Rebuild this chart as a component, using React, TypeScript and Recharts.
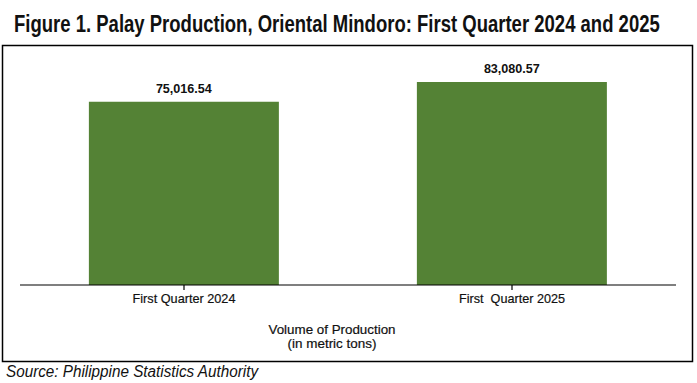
import { BarChart, Bar, XAxis, YAxis, LabelList } from "recharts";

const categories = ["First Quarter 2024", "First  Quarter 2025"];
const production = [75016.54, 83080.57];
const axisTitle = ["Volume of Production", "(in metric tons)"];

const data = categories.map((name, i) => ({ name, value: production[i] }));

const sans = "'Liberation Sans', Arial, sans-serif";

function fmt(v: number) {
  return v.toLocaleString("en-US", { minimumFractionDigits: 2, maximumFractionDigits: 2 });
}

const tickWidths: Record<string, number> = {
  "First Quarter 2024": 103,
  "First  Quarter 2025": 106,
};

function AxisTitle() {
  return (
    <text textAnchor="middle" fontFamily={sans} fontSize={13} fill="#111" stroke="#111" strokeWidth={0.2}>
      <tspan x={332} y={334} textLength={127} lengthAdjust="spacingAndGlyphs">{axisTitle[0]}</tspan>
      <tspan x={332} y={348} textLength={89} lengthAdjust="spacingAndGlyphs">{axisTitle[1]}</tspan>
    </text>
  );
}

function CatTick(props: any) {
  const { x, y, payload } = props;
  return (
    <text
      x={x}
      y={y + 11}
      textAnchor="middle"
      fontFamily={sans}
      fontSize={13}
      fill="#111"
      stroke="#111"
      strokeWidth={0.2}
      textLength={tickWidths[payload.value]}
      lengthAdjust="spacingAndGlyphs"
      style={{ whiteSpace: "pre" }}
    >
      {payload.value}
    </text>
  );
}

function ValueLabel(props: any) {
  const { x, y, width, value } = props;
  return (
    <text
      x={x + width / 2}
      y={y - 9}
      textAnchor="middle"
      fontFamily={sans}
      fontWeight="bold"
      fontSize={13}
      fill="#111"
      textLength={56}
      lengthAdjust="spacingAndGlyphs"
    >
      {fmt(Number(value))}
    </text>
  );
}

export default function App() {
  return (
    <div style={{ position: "fixed", left: 0, top: 0, width: 697, height: 383, background: "#fff" }}>
      <div style={{ position: "absolute", left: 0, top: 0 }}>
        <BarChart
          width={697}
          height={383}
          data={data}
          margin={{ top: 65, right: 21, left: 20, bottom: 0 }}
          barCategoryGap="21%"
        >
          <YAxis hide domain={[0, 90000]} />
          <XAxis
            dataKey="name"
            height={98}
            axisLine={{ stroke: "#000", strokeWidth: 1.2 }}
            tickLine={{ stroke: "#000", strokeWidth: 1.2 }}
            tickSize={5}
            tick={<CatTick />}
            interval={0}
            label={<AxisTitle />}
          />
          <Bar dataKey="value" fill="#548235" isAnimationActive={false}>
            <LabelList dataKey="value" content={<ValueLabel />} />
          </Bar>
        </BarChart>
      </div>
      <svg width={697} height={383} style={{ position: "absolute", left: 0, top: 0, pointerEvents: "none" }}>
        <g transform="translate(14 32) scale(0.788 1)">
          <text x={0} y={0} fontFamily={sans} fontWeight="bold" fontSize={23.5} fill="#111">
            Figure 1. Palay Production, Oriental Mindoro: First Quarter 2024 and 2025
          </text>
        </g>
        <rect x={2.5} y={45.5} width={690} height={316} fill="none" stroke="#000" strokeWidth={1.5} />
        <text
          x={6}
          y={377}
          fontFamily={sans}
          fontStyle="italic"
          fontSize={16}
          fill="#111"
          textLength={252}
          lengthAdjust="spacingAndGlyphs"
        >
          Source: Philippine Statistics Authority
        </text>
      </svg>
    </div>
  );
}
